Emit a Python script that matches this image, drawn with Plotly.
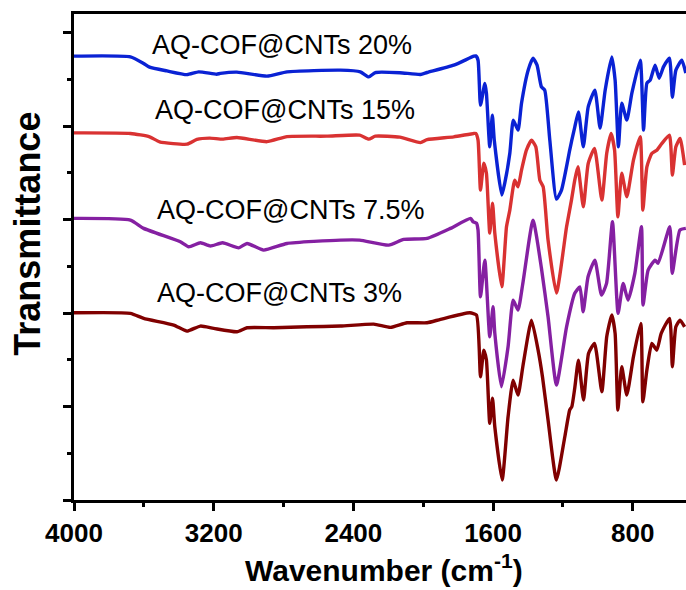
import plotly.graph_objects as go

# Wavenumber (cm^-1) and offset transmittance (a.u.)
wn_20 = [4000, 3677, 3601, 3567, 3468, 3353, 3286, 3183, 3162, 3067, 2895, 2780, 2474, 2360, 2312, 2274,
         2134, 2016, 1978, 1825, 1710, 1699, 1686, 1672, 1647, 1638, 1619, 1604, 1593, 1550, 1533, 1504,
         1484, 1457, 1437, 1399, 1371, 1348, 1323, 1304, 1275, 1237, 1208, 1161, 1149, 1132, 1111, 1083,
         1055, 1017, 987, 958, 920, 901, 882, 863, 834, 805, 757, 738, 719, 700, 672, 649, 624, 590,
         573, 553, 519, 496]
t_20 = [4.749, 4.741, 4.671, 4.631, 4.591, 4.551, 4.581, 4.556, 4.564, 4.578, 4.535, 4.581, 4.599, 4.581,
        4.527, 4.574, 4.572, 4.553, 4.574, 4.652, 4.749, 4.752, 4.706, 4.225, 4.457, 4.353, 3.779, 4.118,
        3.850, 3.262, 3.390, 3.711, 4.064, 3.957, 4.246, 4.599, 4.727, 4.652, 4.420, 4.385, 3.850, 3.219,
        3.316, 3.743, 3.850, 3.989, 4.153, 3.779, 4.206, 4.385, 3.979, 4.385, 4.741, 4.492, 3.779, 4.246,
        4.064, 4.353, 4.706, 3.957, 4.460, 4.492, 4.652, 4.513, 4.634, 4.727, 4.310, 4.599, 4.706, 4.567]

wn_15 = [4000, 3677, 3567, 3510, 3353, 3296, 3223, 3149, 3067, 2895, 2780, 2554, 2364, 2312, 2274, 2134,
         2016, 1978, 1825, 1710, 1699, 1686, 1672, 1653, 1638, 1619, 1603, 1590, 1550, 1523, 1504, 1476,
         1457, 1437, 1409, 1380, 1355, 1332, 1313, 1285, 1237, 1179, 1151, 1132, 1114, 1083, 1055, 1019,
         977, 949, 924, 904, 885, 863, 834, 796, 757, 742, 719, 691, 662, 633, 590, 573, 553, 529, 503]
t_15 = [3.928, 3.922, 3.886, 3.832, 3.807, 3.858, 3.872, 3.861, 3.879, 3.834, 3.888, 3.893, 3.904, 3.861,
        3.893, 3.882, 3.824, 3.856, 3.886, 3.922, 3.922, 3.850, 3.316, 3.604, 3.497, 2.856, 3.176, 2.856,
        2.281, 2.923, 3.102, 3.422, 3.351, 3.529, 3.743, 3.850, 3.779, 3.422, 3.351, 2.781, 2.214, 2.923,
        3.209, 3.422, 3.565, 3.137, 3.601, 3.762, 3.209, 3.711, 3.922, 3.743, 3.030, 3.497, 3.244, 3.636,
        3.886, 3.102, 3.565, 3.708, 3.743, 3.815, 3.904, 3.476, 3.779, 3.868, 3.583]

wn_75 = [4000, 3677, 3601, 3391, 3343, 3276, 3219, 3149, 3057, 3009, 2914, 2780, 2474, 2364, 2198, 2112,
         1978, 1844, 1729, 1714, 1695, 1686, 1672, 1647, 1619, 1600, 1590, 1552, 1514, 1485, 1457, 1428,
         1371, 1323, 1285, 1237, 1179, 1132, 1103, 1084, 1056, 1017, 979, 950, 916, 884, 855, 827, 788,
         750, 741, 712, 672, 655, 588, 574, 530, 496]
t_75 = [3.013, 2.995, 2.906, 2.763, 2.709, 2.752, 2.717, 2.752, 2.698, 2.745, 2.674, 2.745, 2.781, 2.781,
        2.727, 2.788, 2.799, 2.906, 3.013, 2.977, 2.963, 2.888, 2.174, 2.567, 1.747, 2.067, 1.786, 1.212,
        1.640, 2.139, 2.032, 2.335, 2.995, 2.481, 1.960, 1.230, 1.853, 2.211, 2.281, 2.014, 2.388, 2.567,
        2.193, 2.318, 2.977, 1.997, 2.318, 2.139, 2.425, 2.923, 2.086, 2.460, 2.567, 2.532, 2.923, 2.425,
        2.888, 2.906]

wn_3 = [4000, 3677, 3601, 3429, 3353, 3276, 3200, 3067, 3009, 2856, 2666, 2474, 2283, 2188, 2093, 1978,
        1901, 1733, 1695, 1672, 1653, 1638, 1619, 1603, 1590, 1548, 1514, 1485, 1457, 1428, 1380, 1342,
        1317, 1285, 1237, 1189, 1161, 1149, 1132, 1111, 1082, 1053, 1019, 977, 949, 920, 901, 885, 863,
        834, 796, 754, 742, 719, 691, 662, 637, 589, 573, 553, 529, 503]
t_3 = [2.003, 1.997, 1.943, 1.872, 1.807, 1.861, 1.836, 1.800, 1.843, 1.843, 1.853, 1.861, 1.882, 1.847,
       1.896, 1.896, 1.933, 2.003, 1.979, 1.319, 1.604, 1.497, 0.820, 1.088, 0.784, 0.214, 0.891, 1.283,
       1.123, 1.444, 1.925, 1.604, 1.319, 0.856, 0.214, 0.677, 0.963, 0.998, 1.198, 1.497, 1.070, 1.569,
       1.676, 1.158, 1.747, 1.979, 1.783, 0.963, 1.426, 1.123, 1.533, 1.890, 1.051, 1.390, 1.676, 1.604,
       1.783, 1.943, 1.426, 1.853, 1.925, 1.853]

series = [
    ("AQ-COF@CNTs 20%", wn_20, t_20, "#0a22d4"),
    ("AQ-COF@CNTs 15%", wn_15, t_15, "#d93232"),
    ("AQ-COF@CNTs 7.5%", wn_75, t_75, "#8520a2"),
    ("AQ-COF@CNTs 3%", wn_3, t_3, "#800000"),
]

x_ticks = [4000, 3200, 2400, 1600, 800]

fig = go.Figure()
for name, x, y, c in series:
    fig.add_trace(go.Scatter(x=x, y=y, mode="lines", name=name,
                             line=dict(color=c, width=3.4, shape="spline", smoothing=0.5)))

label_font = dict(family="Liberation Sans, Arial", size=27, color="black")
labels = [("AQ-COF@CNTs 20%", 2808, 4.866), ("AQ-COF@CNTs 15%", 2793, 4.171),
          ("AQ-COF@CNTs 7.5%", 2759, 3.102), ("AQ-COF@CNTs 3%", 2822, 2.214)]
for txt, xx, yy in labels:
    fig.add_annotation(x=xx, y=yy, text=txt, showarrow=False, font=label_font,
                       xanchor="center", yanchor="middle")

fig.add_annotation(xref="paper", yref="paper", x=0.506, y=-0.140, text="Wavenumber (cm<sup>-1</sup>)",
                   showarrow=False, xanchor="center", yanchor="middle",
                   font=dict(family="Liberation Sans, Arial", size=30, color="black", weight="bold"))
fig.add_annotation(xref="paper", yref="paper", x=-0.076, y=0.549, text="Transmittance", textangle=-90,
                   showarrow=False, xanchor="center", yanchor="middle",
                   font=dict(family="Liberation Sans, Arial", size=36, color="black", weight="bold"))

fig.update_layout(
    width=686, height=590,
    margin=dict(l=74, r=0, t=14, b=90),
    paper_bgcolor="white", plot_bgcolor="white",
    showlegend=False,
    xaxis=dict(range=[4000, 495], tickmode="array", tickvals=x_ticks,
               ticktext=[str(v) for v in x_ticks],
               showgrid=False, zeroline=False, showline=True, linecolor="black", linewidth=3,
               mirror=True, ticks="outside", ticklen=8, tickwidth=2.5, tickcolor="black",
               tickfont=dict(family="Liberation Sans, Arial", size=26, color="black", weight="bold"),
               minor=dict(tickvals=[3600, 2800, 2000, 1200], ticks="outside", ticklen=4,
                          tickwidth=2.5, tickcolor="black", showgrid=False)),
    yaxis=dict(range=[0, 5.2], tickmode="linear", tick0=0, dtick=1, showticklabels=False,
               showgrid=False, zeroline=False, showline=True, linecolor="black", linewidth=3,
               ticks="outside", ticklen=8, tickwidth=2.5, tickcolor="black",
               minor=dict(tickmode="linear", tick0=0, dtick=0.5, ticks="outside", ticklen=4,
                          tickwidth=2.5, tickcolor="black", showgrid=False)),
)

fig.write_html("out.html")
